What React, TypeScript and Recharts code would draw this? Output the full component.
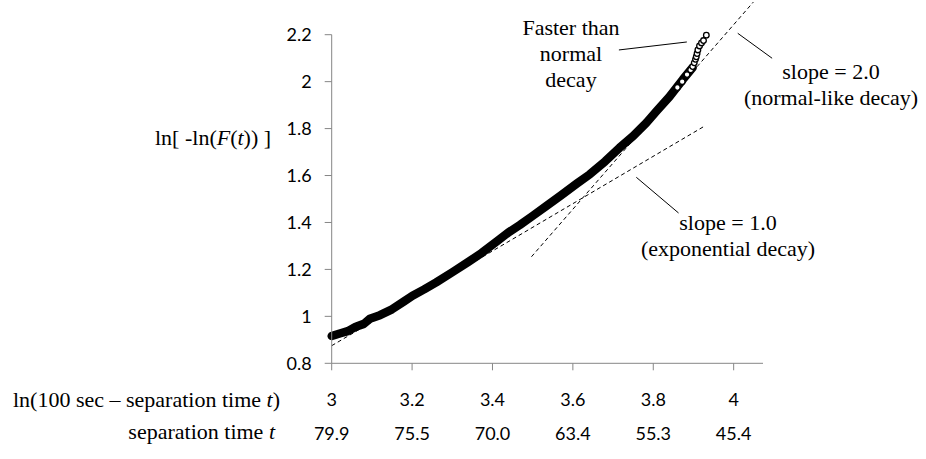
import React from 'react';
import { ComposedChart, Line, Scatter, XAxis, YAxis, ReferenceLine } from 'recharts';

// x ticks = ln(100 sec - t), second row = separation time t
const xTicks = [3, 3.2, 3.4, 3.6, 3.8, 4];
const sepTimes = ['79.9', '75.5', '70.0', '63.4', '55.3', '45.4'];
const yTicks = [0.8, 1, 1.2, 1.4, 1.6, 1.8, 2, 2.2];

// dense part of the curve (markers overlap into a solid band)
const curveX = [3.0, 3.02, 3.04, 3.06, 3.08, 3.095, 3.12, 3.15, 3.18, 3.201, 3.23, 3.26, 3.302, 3.34, 3.373, 3.41, 3.44, 3.468, 3.5, 3.534, 3.57, 3.61, 3.642, 3.68, 3.716, 3.75, 3.783, 3.81, 3.84, 3.874, 3.898];
const curveY = [0.916, 0.927, 0.937, 0.956, 0.968, 0.99, 1.005, 1.03, 1.064, 1.088, 1.115, 1.145, 1.19, 1.232, 1.27, 1.318, 1.358, 1.389, 1.428, 1.47, 1.515, 1.566, 1.605, 1.66, 1.718, 1.768, 1.825, 1.878, 1.935, 2.01, 2.06];

// sparse tail, drawn as open circles
const tailX = [3.86, 3.872, 3.884, 3.893, 3.898, 3.902, 3.905, 3.907, 3.909, 3.911, 3.915, 3.92, 3.925, 3.932];
const tailY = [1.975, 2.0, 2.03, 2.05, 2.064, 2.08, 2.095, 2.106, 2.12, 2.135, 2.152, 2.165, 2.175, 2.198];

// reference slopes (dashed)
const slope1Line = [{ x: 3.0, y: 0.875 }, { x: 3.925, y: 1.808 }];
const slope2Line = [{ x: 3.497, y: 1.254 }, { x: 4.049, y: 2.339 }];

// leader lines for the notes
const fasterLeader = [{ x: 3.7145, y: 2.135 }, { x: 3.8835, y: 2.169 }];
const slope2Leader = [{ x: 4.0102, y: 2.206 }, { x: 4.0957, y: 2.0996 }];
const slope1Leader = [{ x: 3.7578, y: 1.5925 }, { x: 3.8629, y: 1.4404 }];

const curve = curveX.map((x, i) => ({ x, y: curveY[i] }));
const tail = tailX.map((x, i) => ({ x, y: tailY[i] }));

const serif = "'Liberation Serif', 'Times New Roman', serif";
const sans = "Lato, 'Liberation Sans', sans-serif";
const axisGrey = '#868686';

const XTick = (props: any) => {
  const { x, y, payload } = props;
  const i = xTicks.indexOf(payload.value);
  return (
    <g>
      <text x={x} y={y + 36} textAnchor="middle" fontFamily={sans} fontSize={18} fill="#000">
        {payload.value}
      </text>
      <text x={x} y={y + 70} textAnchor="middle" fontFamily={sans} fontSize={18} fill="#000">
        {sepTimes[i]}
      </text>
    </g>
  );
};

const OpenDot = (props: any) => {
  const { cx, cy } = props;
  return <circle cx={cx} cy={cy} r={2.8} fill="#fff" stroke="#000" strokeWidth={1.3} />;
};

const Notes = () => (
  <svg width={926} height={459} style={{ position: 'absolute', left: 0, top: 0, pointerEvents: 'none' }}>
    <g fontFamily={serif} fontSize={22} fill="#000">
      <text x={155} y={145}>
        ln[ -ln(<tspan fontStyle="italic">F</tspan>(<tspan fontStyle="italic">t</tspan>)) ]
      </text>
      <text x={280} y={407} textAnchor="end">
        ln(100 sec – separation time <tspan fontStyle="italic">t</tspan>)
      </text>
      <text x={275} y={439} textAnchor="end">
        separation time <tspan fontStyle="italic">t</tspan>
      </text>
      <text x={571} y={35} textAnchor="middle">Faster than</text>
      <text x={571} y={61} textAnchor="middle">normal</text>
      <text x={571} y={87} textAnchor="middle">decay</text>
      <text x={831} y={79} textAnchor="middle">slope = 2.0</text>
      <text x={831} y={105} textAnchor="middle">(normal-like decay)</text>
      <text x={728} y={230} textAnchor="middle">slope = 1.0</text>
      <text x={728} y={256} textAnchor="middle">(exponential decay)</text>
    </g>
  </svg>
);

export default function App() {
  return (
    <div style={{ position: 'absolute', left: 0, top: 0, width: 926, height: 459 }}>
      <ComposedChart width={926} height={459} margin={{ top: 34.7, right: 163, bottom: 0, left: 0 }}>
        <XAxis
          type="number"
          dataKey="x"
          domain={[3, 4.073]}
          ticks={xTicks}
          interval={0}
          height={95.7}
          tickSize={7}
          tickMargin={0}
          stroke={axisGrey}
          tickLine={{ stroke: axisGrey }}
          tick={<XTick />}
        />
        <YAxis
          type="number"
          dataKey="y"
          domain={[0.8, 2.2]}
          ticks={yTicks}
          interval={0}
          width={331.7}
          tickSize={7}
          tickMargin={13}
          stroke={axisGrey}
          tickLine={{ stroke: axisGrey }}
          tick={{ fill: '#000', fontSize: 18, fontFamily: sans }}
        />
        <ReferenceLine segment={slope1Line} stroke="#000" strokeWidth={1} strokeDasharray="4 3" ifOverflow="visible" />
        <ReferenceLine segment={slope2Line} stroke="#000" strokeWidth={1} strokeDasharray="4 3" ifOverflow="visible" />
        <ReferenceLine segment={fasterLeader} stroke="#000" strokeWidth={1} ifOverflow="visible" />
        <ReferenceLine segment={slope2Leader} stroke="#000" strokeWidth={1} ifOverflow="visible" />
        <ReferenceLine segment={slope1Leader} stroke="#000" strokeWidth={1} ifOverflow="visible" />
        <Line
          data={curve}
          dataKey="y"
          type="linear"
          stroke="#000"
          strokeWidth={8.5}
          strokeLinecap="round"
          strokeLinejoin="round"
          dot={false}
          isAnimationActive={false}
        />
        <Scatter data={tail} dataKey="y" shape={<OpenDot />} isAnimationActive={false} />
      </ComposedChart>
      <Notes />
    </div>
  );
}
